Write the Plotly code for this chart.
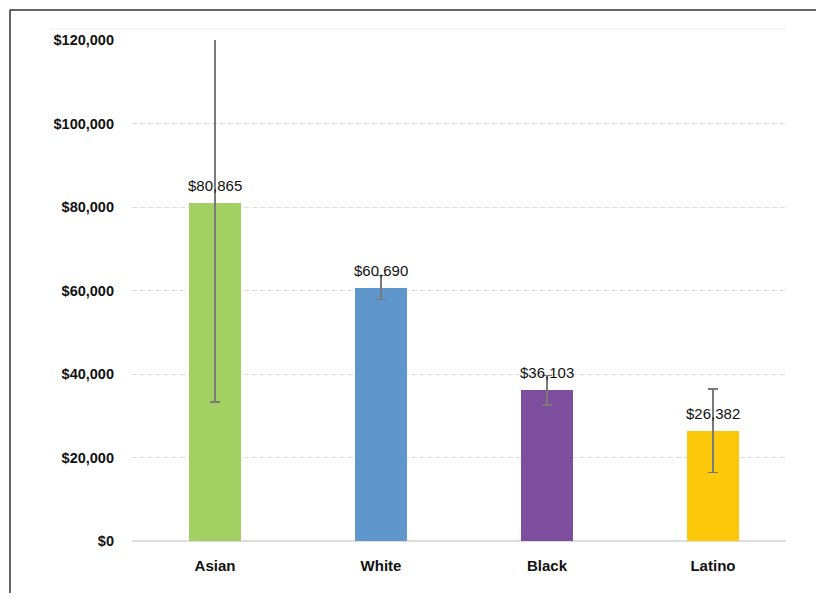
import plotly.graph_objects as go

categories = ["Asian", "White", "Black", "Latino"]
values = [80865, 60690, 36103, 26382]
err_plus = [47565, 2900, 3500, 10000]
err_minus = [47565, 2900, 3500, 10000]
colors = ["#A2D063", "#5F96CC", "#7D4D9E", "#FCC90A"]
labels = ["$80,865", "$60,690", "$36,103", "$26,382"]
tick_vals = [0, 20000, 40000, 60000, 80000, 100000, 120000]
tick_text = ["$0", "$20,000", "$40,000", "$60,000", "$80,000", "$100,000", "$120,000"]

FONT = "Liberation Sans, Arial"

# page body has an 8px margin; figure sized to fit viewport
OFF = 8
W, H = 808, 585
L, R, T, B = 124, 30, 32, 52

fig = go.Figure()
fig.add_trace(go.Bar(
    x=categories, y=values,
    marker=dict(color=colors, line=dict(width=0)),
    width=0.315,
    error_y=dict(type="data", symmetric=False, array=err_plus, arrayminus=err_minus,
                 color="#7a7a7a", thickness=1.3, width=5),
    hoverinfo="skip",
))

for c, v, t in zip(categories, values, labels):
    fig.add_annotation(x=c, y=v, text=t, showarrow=False, yanchor="bottom",
                       yshift=7, font=dict(family=FONT, size=15, color="#111111"))

pw = W - L - R
ph = H - T - B
def px_x(p):
    return (p - OFF - L) / pw
def px_y(p):
    return (H - B - (p - OFF)) / ph

# outer border (left and top edges visible)
fig.add_shape(type="line", xref="paper", yref="paper",
              x0=px_x(10), x1=px_x(10), y0=px_y(10), y1=px_y(640),
              line=dict(color="#333333", width=1.5))
fig.add_shape(type="line", xref="paper", yref="paper",
              x0=px_x(10), x1=px_x(860), y0=px_y(10), y1=px_y(10),
              line=dict(color="#333333", width=1.5))
# faint top line
fig.add_shape(type="line", xref="paper", yref="paper",
              x0=px_x(50), x1=px_x(786), y0=px_y(29), y1=px_y(29),
              line=dict(color="#ececec", width=1))

fig.update_layout(
    width=W, height=H,
    margin=dict(l=L, r=R, t=T, b=B),
    paper_bgcolor="white", plot_bgcolor="white",
    showlegend=False,
    bargap=0.0,
    font=dict(family=FONT, color="#111111"),
    xaxis=dict(range=[-0.5, 3.44], showgrid=False, zeroline=False, showline=False,
               ticks="", tickfont=dict(size=15, family=FONT, weight="bold"),
               ticklabelstandoff=14),
    yaxis=dict(range=[0, 120000], tickvals=tick_vals, ticktext=tick_text,
               showgrid=True, gridcolor="#dcdcdc", griddash="5px,3px", gridwidth=1.3,
               zeroline=True, zerolinecolor="#dddddd", zerolinewidth=1.5,
               showline=False, ticks="",
               tickfont=dict(size=14.5, family=FONT, weight="bold"),
               ticklabelstandoff=17),
)

fig.write_html("out.html")
